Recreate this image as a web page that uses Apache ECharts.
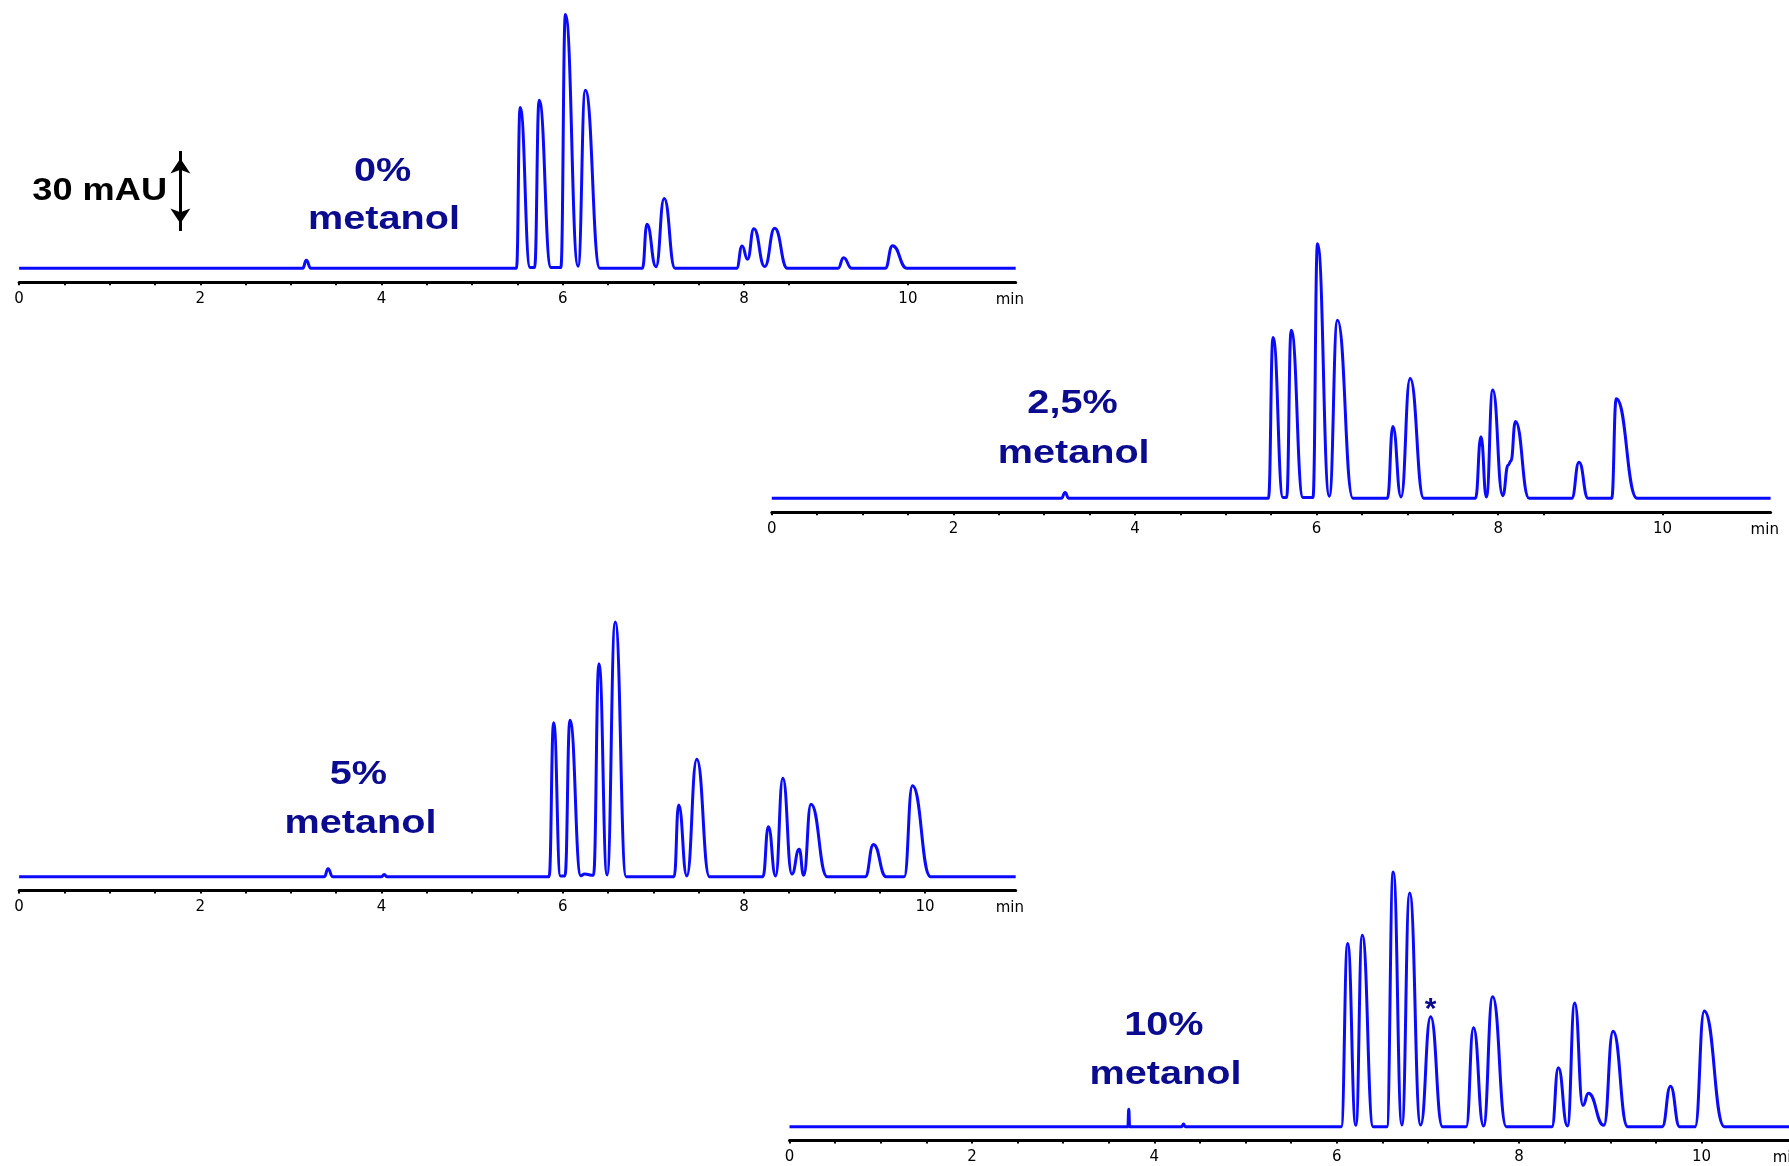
<!DOCTYPE html>
<html>
<head>
<meta charset="utf-8">
<title>HPLC – metanol</title>
<script src="https://cdn.jsdelivr.net/npm/echarts/dist/echarts.min.js"></script>
<style>
  html, body { margin: 0; padding: 0; background: #ffffff; }
  #chart { width: 1789px; height: 1166px; }
</style>
</head>
<body>
<div id="chart"></div>
<script>
// Chromatograms of one mixture eluted with rising methanol content.
// Each point: [retention time (min), absorbance above baseline (mAU)].
const run0 = [
  [0, 0], [3.13, 0], [3.17, 3], [3.22, 0],
  [5.49, 0], [5.53, 60.3], [5.64, 0.3], [5.69, 0.3], [5.74, 63], [5.87, 0.3], [5.98, 0.3],
  [6.03, 95.2], [6.17, 0.8], [6.25, 66.8], [6.41, 0],
  [6.88, 0], [6.93, 16.5], [7.03, 0.6], [7.12, 26.2], [7.24, 0],
  [7.92, 0], [7.98, 8.4], [8.04, 3.4], [8.11, 14.8], [8.23, 0.7], [8.34, 15], [8.48, 0],
  [9.04, 0], [9.10, 4], [9.19, 0],
  [9.56, 0], [9.64, 8.5], [9.80, 0], [11, 0]
];
const run25 = [
  [0, 0], [3.19, 0], [3.23, 2.2], [3.27, 0],
  [5.47, 0], [5.52, 60.3], [5.63, 0.3], [5.67, 0.3], [5.72, 63], [5.85, 0.3], [5.96, 0.3],
  [6.01, 95.5], [6.14, 0.8], [6.23, 66.8], [6.40, 0],
  [6.78, 0], [6.84, 26.9], [6.93, 0.5], [7.03, 44.9], [7.18, 0],
  [7.75, 0], [7.81, 23.1], [7.87, 0.5], [7.94, 40.6], [8.05, 1.0], [8.11, 12.5], [8.14, 14], [8.19, 28.8], [8.34, 0],
  [8.81, 0], [8.89, 13.5], [8.99, 0],
  [9.25, 0], [9.30, 37.3], [9.53, 0], [11, 0]
];
const run5 = [
  [0, 0], [3.37, 0], [3.41, 3], [3.46, 0], [4.00, 0], [4.03, 0.8], [4.06, 0],
  [5.85, 0], [5.90, 57.7], [5.975, 0.3], [6.025, 0.3], [6.08, 58.7], [6.20, 0.4], [6.24, 1.0], [6.34, 0.5],
  [6.40, 79.9], [6.49, 0.6], [6.58, 95.5], [6.70, 0],
  [7.23, 0], [7.28, 26.9], [7.37, 0.3], [7.48, 44.0], [7.62, 0],
  [8.21, 0], [8.27, 18.7], [8.35, 0.3], [8.43, 36.9], [8.53, 1.0], [8.61, 10.3], [8.66, 0.5], [8.74, 27.2], [8.92, 0],
  [9.34, 0], [9.43, 12.1], [9.57, 0],
  [9.77, 0], [9.86, 34.1], [10.06, 0], [11, 0]
];
const run10 = [
  [0, 0], [3.71, 0], [3.72, 6.5], [3.73, 0], [4.30, 0], [4.32, 1.0], [4.34, 0],
  [6.05, 0], [6.12, 68.7], [6.21, 0.5], [6.28, 71.8], [6.40, 0],
  [6.55, 0], [6.62, 95.5], [6.715, 0.6], [6.80, 87.6], [6.92, 0.6], [7.03, 41.2], [7.16, 0],
  [7.42, 0], [7.50, 37.1], [7.61, 0.3], [7.71, 48.7], [7.86, 0],
  [8.36, 0], [8.43, 22.1], [8.53, 0.3], [8.61, 46.4], [8.70, 8], [8.76, 12.5], [8.93, 0.5], [9.03, 35.8], [9.19, 0],
  [9.57, 0], [9.66, 15.2], [9.76, 0],
  [9.93, 0], [10.03, 43.4], [10.25, 0], [11, 0]
];

const runLabels = ['0%', '2,5%', '5%', '10%'];
const solventLabel = 'metanol';
const timeUnit = 'min';

// Time-axis tick marks. The two upper-row style axes print their "10" mark a little early.
const tickMarksA = [0, 0.5, 1, 1.5, 2, 2.5, 3, 3.5, 4, 4.5, 5, 5.5, 6, 6.5, 7, 7.5, 8, 8.5, 9.81];
const tickMarksB = [0, 0.5, 1, 1.5, 2, 2.5, 3, 3.5, 4, 4.5, 5, 5.5, 6, 6.5, 7, 7.5, 8, 8.5, 9, 9.5, 10];
const tickLabelPosA = [0, 2, 4, 6, 8, 9.81];
const tickLabelPosB = [0, 2, 4, 6, 8, 10];
const tickLabelText = ['0', '2', '4', '6', '8', '10'];

// Vertical scale bar and the flagged peak of the 10 % run
const scaleBarMAU = 30;
const scaleBarStart = 14;
const scaleBarTime = 1.78;
const flaggedTime = 7.03;

// ---- layout ----
const PX_PER_MAU = 8 / 3;
const Y_MIN = -5.2, Y_MAX = 100, T_MAX = 11;
const TRACE_BLUE = '#0a0aff';
const LABEL_NAVY = '#0b0b8f';
const BIG_FONT = '"Liberation Sans", Arial, sans-serif';
const ARROW_HEAD = 15;

const panels = [
  { data: run0,  left: 19.1,  pxPerMin: 90.6, baseline: 268.3,  ticks: tickMarksA, labelPos: tickLabelPosA,
    pctAt: [382.5, 171.5], wordAt: [384, 220.3] },
  { data: run25, left: 771.8, pxPerMin: 90.8, baseline: 498.3,  ticks: tickMarksA, labelPos: tickLabelPosA,
    pctAt: [1072.5, 404], wordAt: [1073.7, 454.3] },
  { data: run5,  left: 19.1,  pxPerMin: 90.6, baseline: 876.7,  ticks: tickMarksB, labelPos: tickLabelPosB,
    pctAt: [358.3, 775], wordAt: [360.5, 824] },
  { data: run10, left: 789.5, pxPerMin: 91.2, baseline: 1126.7, ticks: tickMarksB, labelPos: tickLabelPosB,
    pctAt: [1163.8, 1026], wordAt: [1165.5, 1075] }
];

function tickText(positions, v) {
  for (let i = 0; i < positions.length; i++) {
    if (Math.abs(positions[i] - v) < 1e-6) return tickLabelText[i];
  }
  return '';
}

function bigText(str, at, size, color, scaleX, align) {
  return {
    type: 'text', x: at[0], y: at[1], scaleX: scaleX, silent: true,
    style: {
      text: str, fill: color,
      font: 'bold ' + size + 'px ' + BIG_FONT,
      textAlign: align, textVerticalAlign: 'middle',
      align: align, verticalAlign: 'middle'
    }
  };
}

// the last panel runs past the right edge, so grids keep their given boxes
const grids = panels.map(p => ({
  left: p.left,
  top: p.baseline - Y_MAX * PX_PER_MAU,
  width: T_MAX * p.pxPerMin,
  height: (Y_MAX - Y_MIN) * PX_PER_MAU,
  outerBoundsMode: 'none',
  containLabel: false
}));

const xAxes = panels.map((p, i) => ({
  type: 'value', gridIndex: i, min: 0, max: T_MAX,
  splitLine: { show: false },
  axisLine: { show: true, onZero: false, lineStyle: { color: '#000', width: 3 } },
  axisTick: { show: true, customValues: p.ticks, length: 3, lineStyle: { color: '#000', width: 2 } },
  axisLabel: {
    show: true, customValues: p.labelPos, margin: 9,
    formatter: v => tickText(p.labelPos, v),
    color: '#000', fontFamily: 'DejaVu Sans', fontSize: 15
  },
  name: timeUnit, nameLocation: 'end', nameGap: -20,
  nameTextStyle: { color: '#000', fontFamily: 'DejaVu Sans', fontSize: 15,
                   align: 'left', verticalAlign: 'top', padding: [10, 0, 0, 0] }
}));

const yAxes = panels.map((p, i) => ({
  type: 'value', gridIndex: i, min: Y_MIN, max: Y_MAX, show: false
}));

const series = panels.map((p, i) => ({
  type: 'line', xAxisIndex: i, yAxisIndex: i,
  data: p.data,
  showSymbol: false, symbol: 'none',
  smooth: 0.5, smoothMonotone: 'x',
  lineStyle: { color: TRACE_BLUE, width: 3, join: 'round' },
  silent: true, animation: false, z: 3
}));

// 30 mAU scale arrow, drawn in the 0 % panel's own units (tips sit on the end values)
series[0].markLine = {
  silent: true, animation: false,
  symbol: ['arrow', 'arrow'], symbolSize: ARROW_HEAD,
  symbolOffset: [[0, ARROW_HEAD / 2], [0, ARROW_HEAD / 2]],
  lineStyle: { color: '#000', width: 3, type: 'solid' },
  label: { show: false },
  data: [[
    { coord: [scaleBarTime, scaleBarStart] },
    { coord: [scaleBarTime, scaleBarStart + scaleBarMAU] }
  ]]
};

// asterisk over the flagged peak of the 10 % run
const flaggedPoint = run10.find(pt => Math.abs(pt[0] - flaggedTime) < 1e-6);
series[3].markPoint = {
  silent: true, animation: false,
  symbol: 'circle', symbolSize: 1, itemStyle: { color: 'rgba(0,0,0,0)' },
  label: { show: true, position: 'inside', offset: [0, -7], formatter: '*',
           color: LABEL_NAVY, fontSize: 30, fontWeight: 'bold', fontFamily: BIG_FONT },
  data: [{ coord: flaggedPoint }]
};

const texts = [bigText(scaleBarMAU + ' mAU', [167, 191], 32, '#000', 1.13, 'right')];
panels.forEach((p, i) => {
  texts.push(bigText(runLabels[i], p.pctAt, 33, LABEL_NAVY, 1.2, 'center'));
  texts.push(bigText(solventLabel, p.wordAt, 33, LABEL_NAVY, 1.2, 'center'));
});

const chart = echarts.init(document.getElementById('chart'), null, { renderer: 'canvas' });
chart.setOption({
  backgroundColor: '#ffffff',
  animation: false,
  grid: grids,
  xAxis: xAxes,
  yAxis: yAxes,
  series: series,
  graphic: { elements: texts }
});
</script>
</body>
</html>
